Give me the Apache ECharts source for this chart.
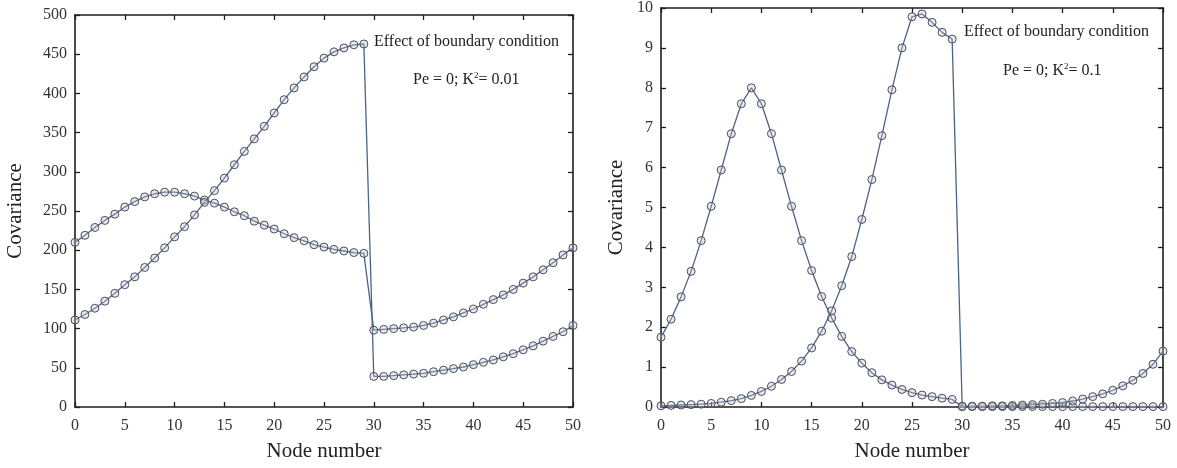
<!DOCTYPE html>
<html>
<head>
<meta charset="utf-8">
<script src="https://cdn.jsdelivr.net/npm/echarts@6/dist/echarts.min.js"></script>
<style>
html,body{margin:0;padding:0;background:#fff;}
#c{width:1177px;height:468px;}
</style>
</head>
<body>
<div id="c"></div>
<script>
// ---- data ----
const nodes = [0,1,2,3,4,5,6,7,8,9,10,11,12,13,14,15,16,17,18,19,20,21,22,23,24,25,26,27,28,29,30,31,32,33,34,35,36,37,38,39,40,41,42,43,44,45,46,47,48,49,50];

// left panel: Pe = 0; K^2 = 0.01
const leftSeriesA = [210,219,229,238,246,255,262,268,272,274,274,272,269,264,260,255,249,244,237,232,227,221,216,212,207,204,201,199,197,196,
  98,99,100,101,102,104,107,111,115,120,125,131,137,143,150,158,166,175,184,194,203];
const leftSeriesB = [111,118,126,135,145,156,166,178,190,203,217,230,245,261,276,292,309,326,342,358,375,392,407,421,434,445,453,458,462,463,
  39,39,40,41,42,43,45,47,49,51,54,57,60,64,68,73,78,84,90,96,104];

// right panel: Pe = 0; K^2 = 0.1
const rightSeriesC = [1.75,2.2,2.76,3.4,4.17,5.03,5.94,6.85,7.6,8.0,7.6,6.85,5.94,5.03,4.17,3.42,2.77,2.23,1.77,1.39,1.1,0.86,0.68,0.55,0.44,0.36,0.3,0.26,0.22,0.19,
  0.01,0.01,0.01,0.01,0.01,0.01,0.01,0.01,0.01,0.01,0.01,0.01,0.01,0.01,0.01,0.01,0.01,0.01,0.01,0.01,0.01];
const rightSeriesD = [0.03,0.04,0.05,0.06,0.07,0.09,0.12,0.16,0.21,0.29,0.39,0.52,0.69,0.89,1.15,1.48,1.9,2.41,3.04,3.77,4.7,5.7,6.8,7.95,9.0,9.78,9.85,9.64,9.39,9.22,
  0.02,0.02,0.02,0.03,0.03,0.04,0.05,0.06,0.07,0.09,0.11,0.15,0.2,0.26,0.33,0.42,0.53,0.67,0.84,1.07,1.4];

const xTicks = {min: 0, max: 50, interval: 5};
const leftY = {min: 0, max: 500, interval: 50};
const rightY = {min: 0, max: 10, interval: 1};

const xName = 'Node number';
const yName = 'Covariance';
const noteTitle = 'Effect of boundary condition';
const leftNote = ['Pe = 0; K', '2', '= 0.01'];
const rightNote = ['Pe = 0; K', '2', '= 0.1'];

// ---- styles ----
const FONT = '"Liberation Serif","Times New Roman",serif';
const AXC = '#1e1e1e';
const LINE = '#4a6387';

function pairs(ys){ return nodes.map((x,i)=>[x, ys[i]]); }

function xAx(grid, pos, showLabel){
  return {
    type:'value', gridIndex:grid, position:pos, min:xTicks.min, max:xTicks.max, interval:xTicks.interval,
    name: showLabel ? xName : '', nameLocation:'middle', nameGap:34,
    nameTextStyle:{fontFamily:FONT, fontSize:21, color:'#222'},
    axisLine:{show:true, onZero:false, lineStyle:{color:AXC, width:1.6}},
    axisTick:{show:true, inside:true, length:5, lineStyle:{color:AXC, width:1.3}},
    axisLabel:{show:showLabel, fontFamily:FONT, fontSize:16, color:'#333', margin:11},
    splitLine:{show:false}
  };
}
function yAx(grid, pos, showLabel, r, gap){
  return {
    type:'value', gridIndex:grid, position:pos, min:r.min, max:r.max, interval:r.interval,
    name: showLabel ? yName : '', nameLocation:'middle', nameGap:gap,
    nameTextStyle:{fontFamily:FONT, fontSize:21, color:'#222'},
    axisLine:{show:true, onZero:false, lineStyle:{color:AXC, width:1.6}},
    axisTick:{show:true, inside:true, length:5, lineStyle:{color:AXC, width:1.3}},
    axisLabel:{show:showLabel, fontFamily:FONT, fontSize:16, color:'#333', margin:8},
    splitLine:{show:false}
  };
}
function ser(xi, yi, ys){
  return {
    type:'line', xAxisIndex:xi, yAxisIndex:yi, data:pairs(ys),
    symbol:'circle', symbolSize:8, showSymbol:true,
    lineStyle:{color:LINE, width:1.3},
    itemStyle:{color:'rgba(190,196,208,0.35)', borderColor:'#4d4d55', borderWidth:1},
    animation:false, z:3
  };
}
function note(x, y, parts){
  return [{
    type:'text', x:x, y:y, z:10,
    style:{text:'{a|'+parts[0]+'}{s|'+parts[1]+'}{a|'+parts[2]+'}', fill:'#222',
      verticalAlign:'middle',
      rich:{a:{fontFamily:FONT, fontSize:16, fill:'#222'}, s:{fontFamily:FONT, fontSize:9, fill:'#222', padding:[0,0,9,0]}}}
  }];
}

const chart = echarts.init(document.getElementById('c'));
chart.setOption({
  backgroundColor:'#fff',
  animation:false,
  grid:[
    {left:75, top:15, width:498, height:392},
    {left:661, top:8, width:502, height:399}
  ],
  xAxis:[xAx(0,'bottom',true), xAx(0,'top',false), xAx(1,'bottom',true), xAx(1,'top',false)],
  yAxis:[yAx(0,'left',true,leftY,49), yAx(0,'right',false,leftY,0), yAx(1,'left',true,rightY,34), yAx(1,'right',false,rightY,0)],
  series:[
    ser(0,0,leftSeriesA), ser(0,0,leftSeriesB),
    ser(2,2,rightSeriesC), ser(2,2,rightSeriesD)
  ],
  graphic:[
    {type:'text', x:374, y:42, z:10, style:{text:noteTitle, font:'16px '+FONT, fill:'#222', verticalAlign:'middle'}},
    ...note(413, 80, leftNote),
    {type:'text', x:964, y:32, z:10, style:{text:noteTitle, font:'16px '+FONT, fill:'#222', verticalAlign:'middle'}},
    ...note(1003, 71, rightNote)
  ]
});
</script>
</body>
</html>
